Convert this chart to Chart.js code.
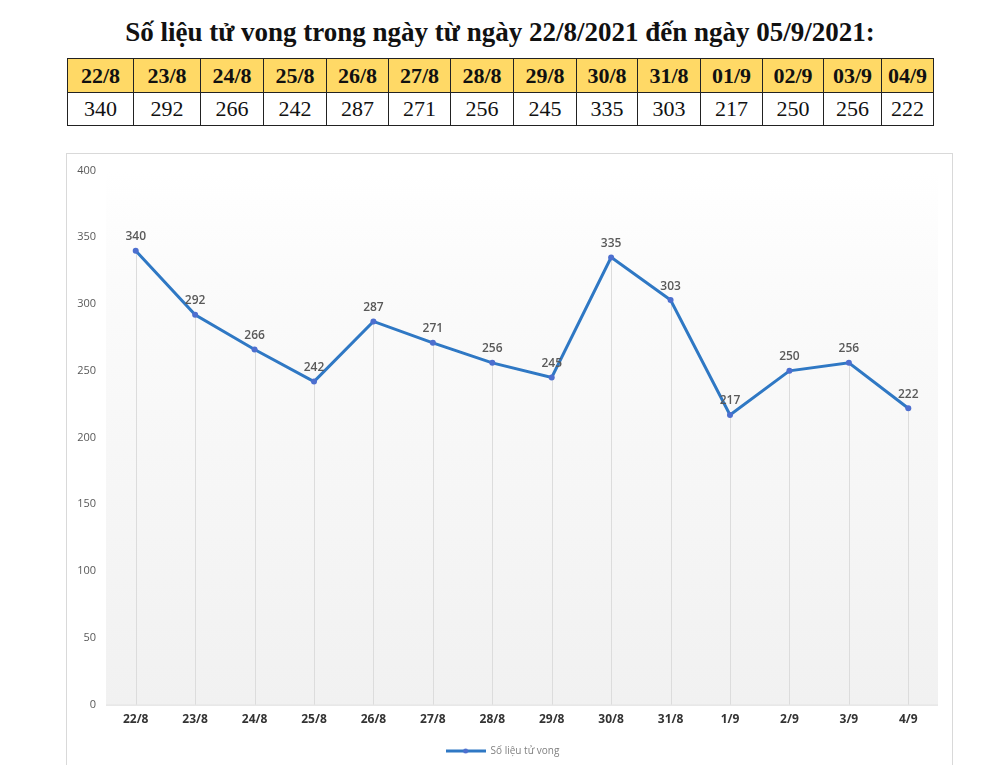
<!DOCTYPE html>
<html>
<head>
<meta charset="utf-8">
<script src="https://cdn.jsdelivr.net/npm/chart.js@4.4.1/dist/chart.umd.min.js"></script>
<style>
  html, body { margin: 0; padding: 0; background: #fff; }
  body { width: 1000px; height: 765px; position: relative; overflow: hidden; }
  #title {
    position: absolute; left: 0; top: 17px; width: 1000px; text-align: center;
    font-family: "Liberation Serif", "DejaVu Serif", serif; font-weight: bold;
    font-size: 27px; color: #111;
  }
  #tbl {
    position: absolute; left: 67px; top: 58px; width: 866px; border-collapse: collapse;
    font-family: "Liberation Serif", serif; font-size: 22px; table-layout: fixed;
  }
  #tbl td { border: 1px solid #222; text-align: center; padding: 0; color: #111; }
  #tbl tr.head td { background: #ffd966; font-weight: bold; height: 33px; }
  #tbl tr.vals td { height: 32px; }
  #box {
    position: absolute; left: 66px; top: 153px; width: 885px; height: 620px;
    border: 1px solid #d9d9d9;
  }
  #wrap { position: absolute; left: 0; top: 0; width: 885px; height: 612px; }
</style>
</head>
<body>
<div id="title">Số liệu tử vong trong ngày từ ngày 22/8/2021 đến ngày 05/9/2021:</div>
<table id="tbl"><colgroup></colgroup><tbody><tr class="head"></tr><tr class="vals"></tr></tbody></table>
<div id="box"><div id="wrap"><canvas id="myChart"></canvas></div></div>
<script>
// table header dates and chart axis dates
const tableDates = ['22/8','23/8','24/8','25/8','26/8','27/8','28/8','29/8','30/8','31/8','01/9','02/9','03/9','04/9'];
const chartLabels = ['22/8','23/8','24/8','25/8','26/8','27/8','28/8','29/8','30/8','31/8','1/9','2/9','3/9','4/9'];
const deaths = [340, 292, 266, 242, 287, 271, 256, 245, 335, 303, 217, 250, 256, 222];
const seriesName = 'Số liệu tử vong';
const yTicks = [0, 50, 100, 150, 200, 250, 300, 350, 400];

// build the table
const colW = [66,67,63,63,62,62,63,63,61,63,62,61,58,52];
const colgroup = document.querySelector('#tbl colgroup');
const headRow = document.querySelector('#tbl tr.head');
const valRow = document.querySelector('#tbl tr.vals');
tableDates.forEach((d, i) => {
    const col = document.createElement('col');
    col.style.width = colW[i] + 'px';
    colgroup.appendChild(col);
    headRow.insertCell().textContent = d;
    valRow.insertCell().textContent = deaths[i];
});

const lineBlue = '#2f78c4';
const dotBlue = '#4d6fcf';

// little legend marker: line with a dot
function legendMarker() {
    const c = document.createElement('canvas');
    c.width = 40; c.height = 8;
    const ctx = c.getContext('2d');
    ctx.strokeStyle = lineBlue;
    ctx.lineWidth = 3;
    ctx.beginPath(); ctx.moveTo(0, 4); ctx.lineTo(40, 4); ctx.stroke();
    ctx.fillStyle = dotBlue;
    ctx.beginPath(); ctx.arc(20, 4, 2.5, 0, Math.PI * 2); ctx.fill();
    return c;
}
const marker = legendMarker();

// gradient plot background, drop lines and value labels
const bgPlugin = {
    id: 'bg',
    beforeDatasetsDraw(chart) {
        const a = chart.chartArea;
        const ctx = chart.ctx;
        const g = ctx.createLinearGradient(0, a.top, 0, a.bottom);
        g.addColorStop(0, '#ffffff');
        g.addColorStop(0.2, '#fbfbfb');
        g.addColorStop(1, '#f1f1f1');
        ctx.save();
        ctx.fillStyle = g;
        ctx.fillRect(a.left, a.top, a.right - a.left, a.bottom - a.top);
        const meta = chart.getDatasetMeta(0);
        ctx.strokeStyle = '#dcdcdc';
        ctx.lineWidth = 1;
        meta.data.forEach(p => {
            ctx.beginPath();
            ctx.moveTo(Math.round(p.x) + 0.5, p.y);
            ctx.lineTo(Math.round(p.x) + 0.5, a.bottom);
            ctx.stroke();
        });
        ctx.strokeStyle = '#d9d9d9';
        ctx.beginPath();
        ctx.moveTo(a.left, a.bottom + 0.5);
        ctx.lineTo(a.right, a.bottom + 0.5);
        ctx.stroke();
        ctx.restore();
    },
    afterDatasetsDraw(chart) {
        const ctx = chart.ctx;
        const meta = chart.getDatasetMeta(0);
        ctx.save();
        ctx.font = '600 12px "Open Sans"';
        ctx.fillStyle = '#595959';
        ctx.textAlign = 'center';
        ctx.textBaseline = 'middle';
        meta.data.forEach((p, i) => {
            ctx.fillText(String(deaths[i]), p.x, p.y - 14);
        });
        ctx.restore();
    }
};

new Chart(document.getElementById('myChart'), {
    type: 'line',
    data: {
        labels: chartLabels,
        datasets: [{
            label: seriesName,
            data: deaths,
            borderColor: lineBlue,
            borderWidth: 3,
            backgroundColor: dotBlue,
            pointBackgroundColor: dotBlue,
            pointBorderColor: dotBlue,
            pointBorderWidth: 0,
            pointRadius: 3,
            tension: 0
        }]
    },
    options: {
        responsive: true,
        maintainAspectRatio: false,
        animation: false,
        layout: { padding: { top: 10, right: 14, left: 0, bottom: 0 } },
        plugins: {
            legend: {
                position: 'bottom',
                labels: {
                    usePointStyle: true,
                    pointStyleWidth: 40,
                    boxHeight: 8,
                    font: { family: 'Open Sans', size: 10 },
                    color: '#808080',
                    padding: 11,
                    generateLabels(chart) {
                        const items = Chart.defaults.plugins.legend.labels.generateLabels(chart);
                        items.forEach(it => { it.pointStyle = marker; });
                        return items;
                    }
                }
            },
            tooltip: { enabled: false }
        },
        scales: {
            x: {
                offset: true,
                grid: { display: false, drawTicks: false },
                border: { display: false },
                ticks: {
                    font: { family: 'Open Sans', size: 12, weight: 'bold' },
                    color: '#333333',
                    padding: 8,
                    maxRotation: 0
                }
            },
            y: {
                min: yTicks[0],
                max: yTicks[yTicks.length - 1],
                afterBuildTicks(scale) { scale.ticks = yTicks.map(v => ({ value: v })); },
                afterFit(scale) { scale.width = 39; },
                grid: { display: false, drawTicks: false },
                border: { display: false },
                ticks: {
                    font: { family: 'Open Sans', size: 11 },
                    color: '#595959',
                    padding: 10
                }
            }
        }
    },
    plugins: [bgPlugin]
});
</script>
</body>
</html>
